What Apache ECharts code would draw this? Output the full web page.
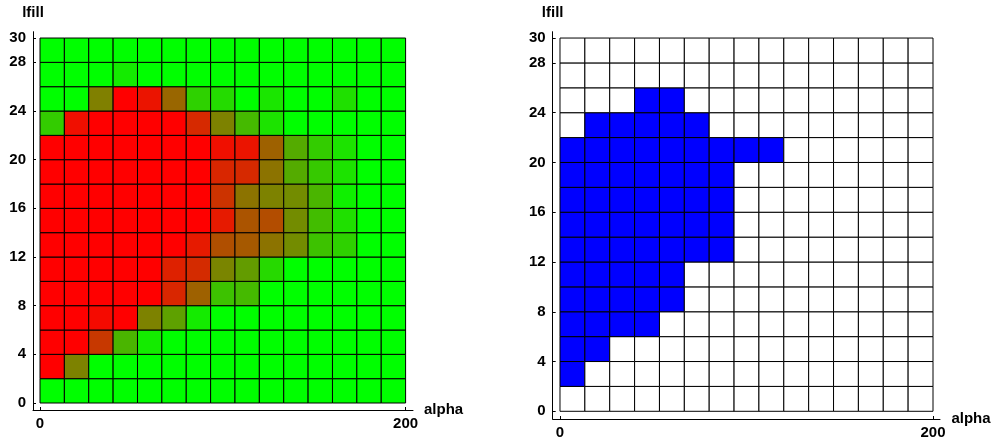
<!DOCTYPE html>
<html>
<head>
<meta charset="utf-8">
<script src="https://cdn.jsdelivr.net/npm/echarts@6/dist/echarts.min.js"></script>
<style>
html,body{margin:0;padding:0;background:#fff;}
#chart{width:995px;height:440px;}
</style>
</head>
<body>
<div id="chart"></div>
<script>
// ---- data ----
const alphaEdges = [0, 13.333, 26.667, 40, 53.333, 66.667, 80, 93.333, 106.667, 120, 133.333, 146.667, 160, 173.333, 186.667, 200];
const lfillEdges = [0, 2, 4, 6, 8, 10, 12, 14, 16, 18, 20, 22, 24, 26, 28, 30];
const alphaTicks = [0, 200];
const lfillTicks = [0, 4, 8, 12, 16, 20, 24, 28, 30];

// left panel: mix fraction (0 = green, 1 = red), rows from lfill 0 upward
const leftMix = [
  [0,0,0,0,0,0,0,0,0,0,0,0,0,0,0],
  [1,0.49,0,0,0,0,0,0,0,0,0,0,0,0,0],
  [1,1,0.78,0.29,0.08,0,0,0,0,0,0,0,0,0,0],
  [1,1,0.96,1,0.49,0.37,0.08,0,0,0,0,0,0,0,0],
  [1,1,1,1,1,0.85,0.62,0.24,0.27,0,0,0,0,0,0],
  [1,1,1,1,1,0.87,0.83,0.48,0.39,0.15,0,0,0,0,0],
  [1,1,1,1,1,1,0.9,0.69,0.65,0.55,0.45,0.24,0.18,0,0],
  [1,1,1,1,1,1,1,0.9,0.67,0.7,0.45,0.26,0.12,0,0],
  [1,1,1,1,1,1,1,0.8,0.55,0.49,0.45,0.29,0.06,0,0],
  [1,1,1,1,1,1,1,0.85,0.84,0.55,0.33,0.21,0.11,0,0],
  [1,1,1,1,1,1,1,0.94,0.92,0.62,0.33,0.2,0.11,0,0],
  [0.2,0.94,1,1,1,1,0.84,0.49,0.27,0.11,0,0,0,0,0],
  [0,0,0.5,1,0.92,0.6,0.18,0.14,0,0.1,0,0,0.12,0,0],
  [0,0,0,0.08,0,0,0,0,0,0,0,0,0,0,0],
  [0,0,0,0,0,0,0,0,0,0,0,0,0,0,0]
];

// right panel: 1 = blue, 0 = white, rows from lfill 0 upward
const rightMask = [
  [0,0,0,0,0,0,0,0,0,0,0,0,0,0,0],
  [1,0,0,0,0,0,0,0,0,0,0,0,0,0,0],
  [1,1,0,0,0,0,0,0,0,0,0,0,0,0,0],
  [1,1,1,1,0,0,0,0,0,0,0,0,0,0,0],
  [1,1,1,1,1,0,0,0,0,0,0,0,0,0,0],
  [1,1,1,1,1,0,0,0,0,0,0,0,0,0,0],
  [1,1,1,1,1,1,1,0,0,0,0,0,0,0,0],
  [1,1,1,1,1,1,1,0,0,0,0,0,0,0,0],
  [1,1,1,1,1,1,1,0,0,0,0,0,0,0,0],
  [1,1,1,1,1,1,1,0,0,0,0,0,0,0,0],
  [1,1,1,1,1,1,1,1,1,0,0,0,0,0,0],
  [0,1,1,1,1,1,0,0,0,0,0,0,0,0,0],
  [0,0,0,1,1,0,0,0,0,0,0,0,0,0,0],
  [0,0,0,0,0,0,0,0,0,0,0,0,0,0,0],
  [0,0,0,0,0,0,0,0,0,0,0,0,0,0,0]
];

// ---- build ----
function buildData(matrix) {
  const out = [];
  matrix.forEach((row, j) => {
    row.forEach((v, i) => {
      out.push([alphaEdges[i], lfillEdges[j], v, alphaEdges[i + 1], lfillEdges[j + 1]]);
    });
  });
  return out;
}

function renderCell(params, api) {
  const p0 = api.coord([api.value(0), api.value(4)]);
  const p1 = api.coord([api.value(3), api.value(1)]);
  return {
    type: 'rect',
    shape: { x: p0[0], y: p0[1], width: p1[0] - p0[0], height: p1[1] - p0[1] },
    style: { fill: api.visual('color'), stroke: '#000', lineWidth: 1 }
  };
}

const FONT = "'Liberation Sans', Arial, sans-serif";
const labelStyle = { color: '#000', fontWeight: 'bold', fontSize: 15, fontFamily: FONT };

function xAxisDef(gridIndex, min, max) {
  return {
    gridIndex, type: 'value', min, max,
    splitLine: { show: false },
    axisLine: { show: true, onZero: false, lineStyle: { color: '#000', width: 1 } },
    axisTick: { show: true, inside: true, length: 3, customValues: alphaTicks, lineStyle: { color: '#000' } },
    axisLabel: Object.assign({ customValues: alphaTicks, margin: 6 }, labelStyle),
    name: 'alpha', nameLocation: 'end', nameGap: 11,
    nameTextStyle: Object.assign({}, labelStyle)
  };
}
function yAxisDef(gridIndex, min, max) {
  return {
    gridIndex, type: 'value', min, max,
    splitLine: { show: false },
    axisLine: { show: true, onZero: false, lineStyle: { color: '#000', width: 1 } },
    axisTick: { show: true, inside: true, length: 3, customValues: lfillTicks, lineStyle: { color: '#000' } },
    axisLabel: Object.assign({ customValues: lfillTicks, margin: 7 }, labelStyle),
    name: 'lfill', nameLocation: 'end', nameGap: 11,
    nameTextStyle: Object.assign({}, labelStyle)
  };
}

const chart = echarts.init(document.getElementById('chart'), null, { renderer: 'canvas' });
chart.setOption({
  animation: false,
  backgroundColor: '#fff',
  grid: [
    { left: 33, top: 31.7, width: 380, height: 378.3 },
    { left: 552.7, top: 31.7, width: 387.3, height: 387.3 }
  ],
  xAxis: [xAxisDef(0, -3.83, 204.05), xAxisDef(1, -3.91, 203.75)],
  yAxis: [yAxisDef(0, -0.575, 30.52), yAxisDef(1, -0.62, 30.51)],
  visualMap: [
    { type: 'continuous', show: false, seriesIndex: 0, dimension: 2, min: 0, max: 1, inRange: { color: ['#00ff00', '#ff0000'] } },
    { type: 'continuous', show: false, seriesIndex: 1, dimension: 2, min: 0, max: 1, inRange: { color: ['#ffffff', '#0000ff'] } }
  ],
  series: [
    { type: 'custom', xAxisIndex: 0, yAxisIndex: 0, renderItem: renderCell, data: buildData(leftMix), encode: { x: 0, y: 1 } },
    { type: 'custom', xAxisIndex: 1, yAxisIndex: 1, renderItem: renderCell, data: buildData(rightMask), encode: { x: 0, y: 1 } }
  ]
});
</script>
</body>
</html>
